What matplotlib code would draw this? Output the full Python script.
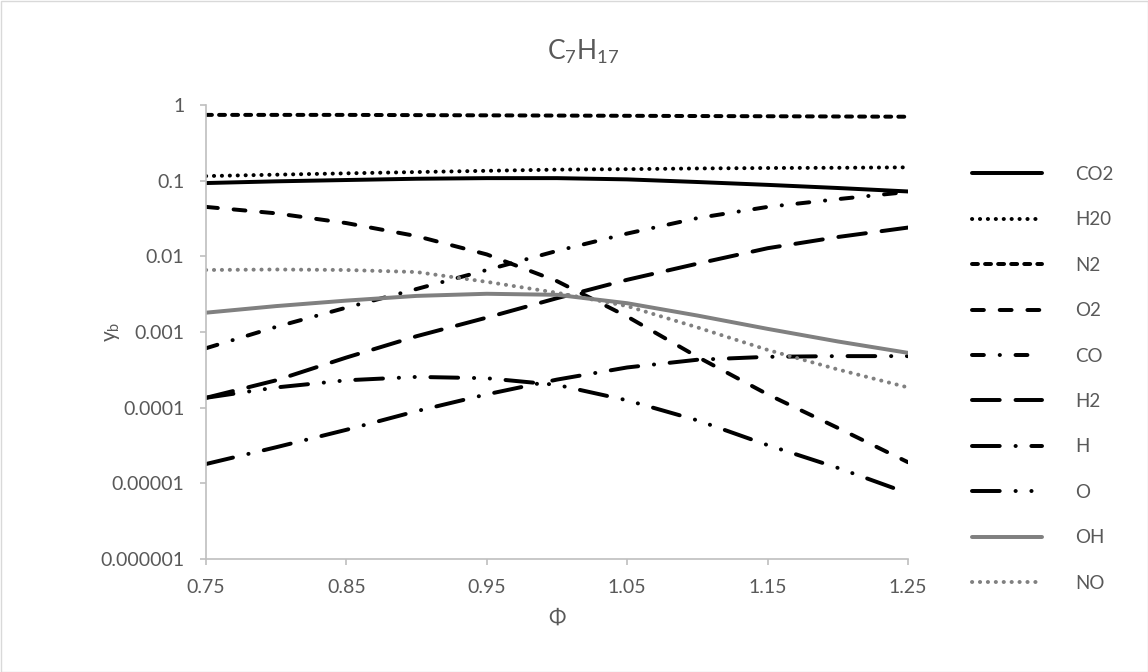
import matplotlib
matplotlib.use('Agg')
import matplotlib.pyplot as plt
from matplotlib.patches import Rectangle
from matplotlib.ticker import FixedLocator, NullLocator, FixedFormatter

plt.rcParams['font.family'] = ['Lato', 'DejaVu Sans']
plt.rcParams['mathtext.fontset'] = 'custom'
plt.rcParams['mathtext.rm'] = 'Lato'
plt.rcParams['lines.scale_dashes'] = True

phi = [0.75, 0.80, 0.85, 0.90, 0.95, 1.00, 1.05, 1.10, 1.15, 1.20, 1.25]

co2 = [0.093, 0.098, 0.102, 0.106, 0.108, 0.108, 0.104, 0.096, 0.088, 0.080, 0.072]
h2o = [0.115, 0.120, 0.125, 0.130, 0.135, 0.140, 0.142, 0.145, 0.147, 0.148, 0.150]
n2 = [0.74, 0.74, 0.74, 0.735, 0.73, 0.725, 0.72, 0.715, 0.71, 0.705, 0.70]
o2 = [0.045, 0.037, 0.0275, 0.0185, 0.0106, 0.0047, 0.0016, 4.7e-4, 1.5e-4, 5.4e-5, 1.9e-5]
co = [6.1e-4, 1.17e-3, 2.1e-3, 3.7e-3, 6.6e-3, 0.0118, 0.020, 0.032, 0.045, 0.057, 0.071]
h2 = [1.35e-4, 2.3e-4, 4.6e-4, 8.8e-4, 1.55e-3, 2.8e-3, 4.9e-3, 8.0e-3, 0.0128, 0.018, 0.024]
h = [1.8e-5, 3.0e-5, 5.1e-5, 9.0e-5, 1.5e-4, 2.35e-4, 3.4e-4, 4.3e-4, 4.7e-4, 4.8e-4, 4.8e-4]
o = [1.35e-4, 1.85e-4, 2.3e-4, 2.55e-4, 2.45e-4, 2.0e-4, 1.25e-4, 6.8e-5, 3.2e-5, 1.6e-5, 7.4e-6]
oh = [1.8e-3, 2.2e-3, 2.6e-3, 3.0e-3, 3.2e-3, 3.1e-3, 2.4e-3, 1.65e-3, 1.1e-3, 7.5e-4, 5.3e-4]
no = [6.6e-3, 6.7e-3, 6.6e-3, 6.2e-3, 4.6e-3, 3.3e-3, 2.2e-3, 1.15e-3, 5.8e-4, 3.2e-4, 1.85e-4]

names = ['CO2', 'H20', 'N2', 'O2', 'CO', 'H2', 'H', 'O', 'OH', 'NO']
x_ticks = [0.75, 0.85, 0.95, 1.05, 1.15, 1.25]
y_ticks = [1e-6, 1e-5, 1e-4, 1e-3, 1e-2, 1e-1, 1]
y_tick_labels = ['0.000001', '0.00001', '0.0001', '0.001', '0.01', '0.1', '1']

black = '#000000'
gray = '#808080'
dot = (0.05, 1.95)
styles = [
    (black, None),
    (black, dot),
    (black, (1.5, 1.8)),
    (black, (3, 4)),
    (black, (3, 4, 0.05, 3.95)),
    (black, (7, 4)),
    (black, (7, 4, 0.05, 3.95)),
    (black, (7, 4, 0.05, 3.95, 0.05, 3.95)),
    (gray, None),
    (gray, dot),
]
series = [co2, h2o, n2, o2, co, h2, h, o, oh, no]

fig = plt.figure(figsize=(11.48, 6.72), dpi=100)
ax = fig.add_axes([206 / 1148, 1 - 559 / 672, 702 / 1148, 454 / 672])

for vals, name, (color, dashes) in zip(series, names, styles):
    line, = ax.plot(phi, vals, color=color, linewidth=2.85, label=name,
                    solid_capstyle='round', dash_capstyle='round')
    if dashes is not None:
        line.set_dashes(dashes)

ax.set_yscale('log')
ax.set_xlim(0.75, 1.25)
ax.set_ylim(1e-6, 1)
ax.xaxis.set_major_locator(FixedLocator(x_ticks))
ax.set_xticklabels(['%.2f' % v for v in x_ticks])
ax.yaxis.set_major_locator(FixedLocator(y_ticks))
ax.yaxis.set_major_formatter(FixedFormatter(y_tick_labels))
ax.yaxis.set_minor_locator(NullLocator())

for side in ['top', 'right']:
    ax.spines[side].set_visible(False)
for side in ['left', 'bottom']:
    ax.spines[side].set_color('#bfbfbf')
    ax.spines[side].set_linewidth(1.2)
ax.tick_params(axis='both', which='major', direction='out', length=4.5, width=1.2,
               color='#bfbfbf', labelcolor='#595959', labelsize=14)
ax.tick_params(axis='y', pad=11)
ax.tick_params(axis='x', pad=10)

ax.set_xlabel('\u03a6', fontsize=15, color='#595959', labelpad=8)
ax.set_ylabel('y$_\\mathregular{b}$', fontsize=15, color='#595959')
ax.yaxis.set_label_coords(-0.12, 0.5)

fig.text(583 / 1148, 1 - 52 / 672, 'C$_\\mathregular{7}$H$_\\mathregular{17}$', fontsize=19,
         color='#595959', ha='center', va='center')

leg = fig.legend(loc='upper left', bbox_to_anchor=(972 / 1148, 1 - 166 / 672),
                 frameon=False, fontsize=13.5, borderpad=0, borderaxespad=0,
                 handlelength=3.73, handletextpad=1.76, labelspacing=1.515)
for t in leg.get_texts():
    t.set_color('#595959')

fig.patches.append(Rectangle((0.5 / 1148, 0.5 / 672), 1 - 1 / 1148, 1 - 1 / 672,
                             transform=fig.transFigure, fill=False,
                             edgecolor='#d9d9d9', linewidth=1))

fig.savefig('out.png', dpi=100)
